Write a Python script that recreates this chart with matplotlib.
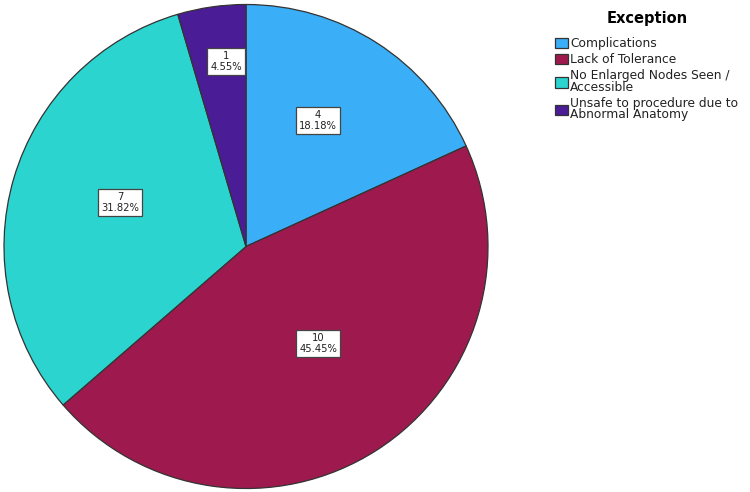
import numpy as np
import matplotlib
matplotlib.use("Agg")
import matplotlib.pyplot as plt

# Data
categories = ["Complications", "Lack of Tolerance",
              "No Enlarged Nodes Seen /\nAccessible",
              "Unsafe to procedure due to\nAbnormal Anatomy"]
counts = [4, 10, 7, 1]
colors = ["#3aaef7", "#9e1a4e", "#2bd4cf", "#4a1c96"]

# label placement (radius as fraction of pie radius, angle nudge in degrees)
label_r = [0.60, 0.50, 0.55, 0.77]
label_nudge = [3, 4, -3, -2]

fig = plt.figure(figsize=(7.5, 4.92), dpi=100)
W, H = 750, 492
cx, cy, r = 246, 492 - 246.5, 242
ax = fig.add_axes([(cx - r) / W, (cy - r) / H, 2 * r / W, 2 * r / H])

wedges, _ = ax.pie(counts, colors=colors, startangle=90, counterclock=False,
                   radius=1, wedgeprops=dict(edgecolor="#333333", linewidth=0.9))
ax.set_xlim(-1, 1)
ax.set_ylim(-1, 1)
ax.set_aspect("auto")
ax.axis("off")

total = sum(counts)
for w, n, lr, nd in zip(wedges, counts, label_r, label_nudge):
    mid = np.deg2rad((w.theta1 + w.theta2) / 2 + nd)
    ax.text(lr * np.cos(mid), lr * np.sin(mid), f"{n}\n{n / total * 100:.2f}%",
            ha="center", va="center", fontsize=7.2, color="#222222", linespacing=1.1,
            bbox=dict(boxstyle="square,pad=0.3", facecolor="white",
                      edgecolor="#444444", linewidth=0.9))

leg = fig.legend(wedges, categories, title="Exception", loc="upper left",
                 bbox_to_anchor=(555 / W, 1 - 11 / H), frameon=False,
                 fontsize=8.8, title_fontproperties=dict(size=10.5, weight="bold"),
                 handlelength=1.05, handleheight=0.95, handletextpad=0.2,
                 labelspacing=0.25, borderpad=0, borderaxespad=0)
leg._legend_box.sep = 8
for t in leg.get_texts():
    t.set_linespacing(0.85)
    t.set_color("#222222")
for h in leg.legend_handles:
    h.set_edgecolor("#333333")

fig.savefig("out.png", dpi=100)
